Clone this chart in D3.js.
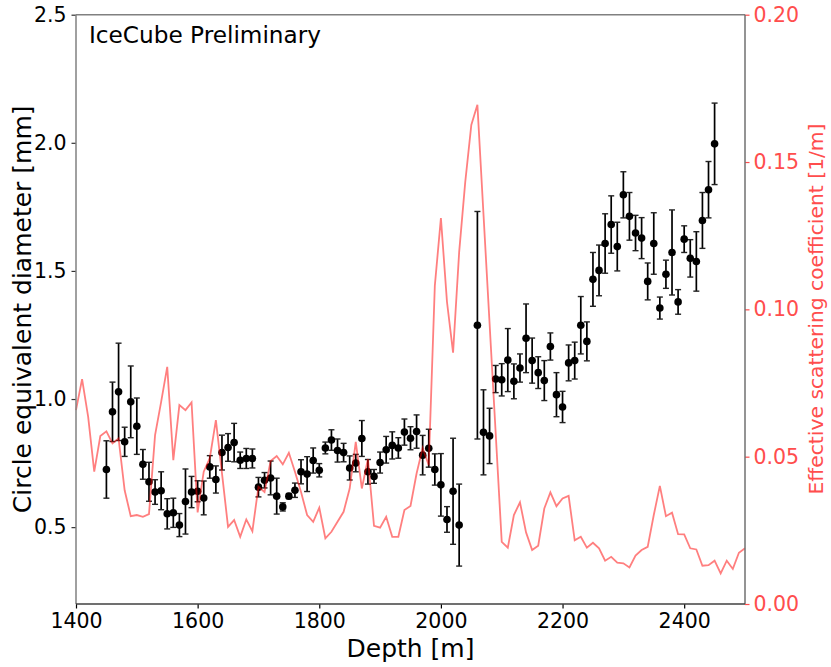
<!DOCTYPE html>
<html>
<head>
<meta charset="utf-8">
<script src="https://cdn.jsdelivr.net/npm/d3@7"></script>
<style>
  html, body { margin: 0; padding: 0; background: #fff; }
  svg { display: block; font-family: "DejaVu Sans", sans-serif; }
</style>
</head>
<body>
<div id="chart"></div>
<script>
// Grain size measurements (black points with error bars), left axis.
const sizeDepths = [
  1450, 1460, 1470, 1480, 1490, 1500, 1510, 1520, 1530, 1540,
  1550, 1560, 1570, 1580, 1590, 1600, 1610, 1620, 1630, 1640,
  1650, 1660, 1670, 1680, 1690, 1700, 1710, 1720, 1730, 1740,
  1750, 1760, 1770, 1780, 1790, 1800, 1810, 1820, 1830, 1840,
  1850, 1860, 1870, 1880, 1890, 1900, 1910, 1920, 1930, 1940,
  1950, 1960, 1970, 1980, 1990, 2000, 2010, 2020, 2030,
  2060, 2070, 2080, 2090, 2100, 2110, 2120, 2130, 2140, 2150,
  2160, 2170, 2180, 2190, 2200, 2210, 2220, 2230, 2240, 2250,
  2260, 2270, 2280, 2290, 2300, 2310, 2320, 2330, 2340, 2350,
  2360, 2370, 2380, 2390, 2400, 2410, 2420, 2430, 2440, 2450
];
const sizeValues = [
  0.725, 0.950, 1.028, 0.833, 0.989, 0.894, 0.745, 0.677, 0.637, 0.642,
  0.552, 0.556, 0.508, 0.600, 0.637, 0.640, 0.614, 0.735, 0.686, 0.791,
  0.811, 0.830, 0.761, 0.768, 0.768, 0.656, 0.683, 0.692, 0.621, 0.579,
  0.621, 0.644, 0.716, 0.707, 0.760, 0.722, 0.809, 0.840, 0.799, 0.791,
  0.731, 0.750, 0.846, 0.716, 0.698, 0.752, 0.802, 0.819, 0.809, 0.871,
  0.847, 0.873, 0.781, 0.808, 0.725, 0.665, 0.530, 0.640, 0.508,
  1.288, 0.870, 0.856, 1.078, 1.075, 1.152, 1.069, 1.121, 1.237, 1.150,
  1.103, 1.072, 1.205, 1.017, 0.969, 1.141, 1.150, 1.288, 1.225, 1.467,
  1.502, 1.607, 1.681, 1.595, 1.797, 1.713, 1.648, 1.628, 1.459, 1.607,
  1.355, 1.487, 1.572, 1.379, 1.624, 1.549, 1.537, 1.697, 1.817, 1.996
];
const sizeErrors = [
  0.112, 0.116, 0.190, 0.057, 0.140, 0.110, 0.058, 0.076, 0.048, 0.074,
  0.059, 0.057, 0.045, 0.127, 0.061, 0.041, 0.066, 0.044, 0.053, 0.068,
  0.054, 0.075, 0.032, 0.039, 0.037, 0.038, 0.030, 0.066, 0.070, 0.016,
  0.010, 0.028, 0.047, 0.068, 0.049, 0.026, 0.023, 0.040, 0.045, 0.036,
  0.047, 0.034, 0.070, 0.048, 0.027, 0.041, 0.052, 0.053, 0.040, 0.051,
  0.045, 0.065, 0.077, 0.074, 0.061, 0.122, 0.050, 0.207, 0.160,
  0.444, 0.166, 0.108, 0.053, 0.063, 0.123, 0.068, 0.055, 0.134, 0.088,
  0.062, 0.078, 0.053, 0.086, 0.061, 0.070, 0.072, 0.112, 0.076, 0.105,
  0.099, 0.116, 0.112, 0.095, 0.090, 0.093, 0.069, 0.080, 0.072, 0.120,
  0.043, 0.055, 0.166, 0.048, 0.052, 0.073, 0.116, 0.109, 0.110, 0.159
];

// Effective scattering coefficient (red line), right axis.
const scatterDepths = [
  1400, 1410, 1420, 1430, 1440, 1450, 1460, 1470, 1480, 1490,
  1500, 1510, 1520, 1530, 1540, 1550, 1560, 1570, 1580, 1590,
  1600, 1610, 1620, 1630, 1640, 1650, 1660, 1670, 1680, 1690,
  1700, 1710, 1720, 1730, 1740, 1750, 1760, 1770, 1780, 1790,
  1800, 1810, 1820, 1830, 1840, 1850, 1860, 1870, 1880, 1890,
  1900, 1910, 1920, 1930, 1940, 1950, 1960, 1970, 1980, 1990,
  2000, 2010, 2020, 2030, 2040, 2050, 2060, 2070, 2080, 2090,
  2100, 2110, 2120, 2130, 2140, 2150, 2160, 2170, 2180, 2190,
  2200, 2210, 2220, 2230, 2240, 2250, 2260, 2270, 2280, 2290,
  2300, 2310, 2320, 2330, 2340, 2350, 2360, 2370, 2380, 2390,
  2400, 2410, 2420, 2430, 2440, 2450, 2460, 2470, 2480, 2490,
  2500
];
const scatterValues = [
  0.0658, 0.0763, 0.0635, 0.0449, 0.0570, 0.0586, 0.0545, 0.0562, 0.0386, 0.0298,
  0.0302, 0.0296, 0.0305, 0.0573, 0.0686, 0.0805, 0.0488, 0.0675, 0.0658, 0.0684,
  0.0311, 0.0449, 0.0495, 0.0624, 0.0444, 0.0262, 0.0285, 0.0228, 0.0287, 0.0247,
  0.0398, 0.0380, 0.0485, 0.0502, 0.0474, 0.0513, 0.0449, 0.0380, 0.0302, 0.0279,
  0.0327, 0.0223, 0.0245, 0.0279, 0.0313, 0.0392, 0.0550, 0.0392, 0.0492, 0.0265,
  0.0259, 0.0296, 0.0228, 0.0228, 0.0319, 0.0333, 0.0443, 0.0530, 0.0471, 0.1080,
  0.1310, 0.1025, 0.0853, 0.1194, 0.1432, 0.1626, 0.1694, 0.1323, 0.0953, 0.0582,
  0.0211, 0.0191, 0.0302, 0.0345, 0.0243, 0.0183, 0.0198, 0.0324, 0.0379, 0.0332,
  0.0358, 0.0367, 0.0216, 0.0228, 0.0191, 0.0208, 0.0189, 0.0147, 0.0160, 0.0140,
  0.0138, 0.0124, 0.0164, 0.0183, 0.0194, 0.0302, 0.0401, 0.0298, 0.0310, 0.0237,
  0.0236, 0.0189, 0.0185, 0.0130, 0.0132, 0.0147, 0.0104, 0.0147, 0.0119, 0.0174,
  0.0189
];

const depthTicks = [1400, 1600, 1800, 2000, 2200, 2400];
const sizeTicks = [0.5, 1.0, 1.5, 2.0, 2.5];
const scatterTicks = [0.00, 0.05, 0.10, 0.15, 0.20];

const width = 831;
const height = 667;
const margin = { top: 14.7, right: 86, bottom: 63, left: 76 };
const innerW = width - margin.left - margin.right;
const innerH = height - margin.top - margin.bottom;

const red = '#ff4d4d';

const svg = d3.select('#chart').append('svg')
  .attr('width', width)
  .attr('height', height);

svg.append('rect')
  .attr('width', width)
  .attr('height', height)
  .attr('fill', '#fff');

const g = svg.append('g')
  .attr('transform', `translate(${margin.left},${margin.top})`);

const x = d3.scaleLinear().domain([1400, 2500]).range([0, innerW]);
const yLeft = d3.scaleLinear().domain([0.2, 2.5]).range([innerH, 0]);
const yRight = d3.scaleLinear().domain([0, 0.2]).range([innerH, 0]);

// Axes
const xAxis = g.append('g')
  .attr('transform', `translate(0,${innerH})`)
  .call(d3.axisBottom(x).tickValues(depthTicks).tickFormat(d3.format('d'))
    .tickSize(4.5).tickPadding(5).tickSizeOuter(0));

const leftAxis = g.append('g')
  .call(d3.axisLeft(yLeft).tickValues(sizeTicks).tickFormat(d3.format('.1f'))
    .tickSize(4.5).tickPadding(5).tickSizeOuter(0));

const rightAxis = g.append('g')
  .attr('transform', `translate(${innerW},0)`)
  .call(d3.axisRight(yRight).tickValues(scatterTicks).tickFormat(d3.format('.2f'))
    .tickSize(4.5).tickPadding(4).tickSizeOuter(0));

[xAxis, leftAxis, rightAxis].forEach(function (a) {
  a.select('.domain').remove();
  a.selectAll('text')
    .style('font-family', '"DejaVu Sans", sans-serif')
    .style('font-size', '20.5px');
});
xAxis.selectAll('text').attr('fill', '#000');
xAxis.selectAll('line').attr('stroke', '#000').attr('stroke-width', 1.2);
leftAxis.selectAll('text').attr('fill', '#000');
leftAxis.selectAll('line').attr('stroke', '#333').attr('stroke-width', 1.2);
rightAxis.selectAll('text').attr('fill', red);
rightAxis.selectAll('line').attr('stroke', red).attr('stroke-width', 1.2);

// Error bars and points
const points = sizeDepths.map(function (d, i) {
  return { depth: d, value: sizeValues[i], err: sizeErrors[i] };
});

const bars = g.append('g').attr('class', 'errorbars');
bars.selectAll('line.bar')
  .data(points)
  .enter().append('line')
  .attr('class', 'bar')
  .attr('x1', d => x(d.depth))
  .attr('x2', d => x(d.depth))
  .attr('y1', d => yLeft(d.value - d.err))
  .attr('y2', d => yLeft(d.value + d.err))
  .attr('stroke', '#000')
  .attr('stroke-width', 1.7);

['lo', 'hi'].forEach(function (side) {
  bars.selectAll('line.cap-' + side)
    .data(points)
    .enter().append('line')
    .attr('class', 'cap-' + side)
    .attr('x1', d => x(d.depth) - 3)
    .attr('x2', d => x(d.depth) + 3)
    .attr('y1', d => yLeft(side == 'lo' ? d.value - d.err : d.value + d.err))
    .attr('y2', d => yLeft(side == 'lo' ? d.value - d.err : d.value + d.err))
    .attr('stroke', '#222')
    .attr('stroke-width', 1.4);
});

g.append('g').selectAll('circle')
  .data(points)
  .enter().append('circle')
  .attr('cx', d => x(d.depth))
  .attr('cy', d => yLeft(d.value))
  .attr('r', 3.8)
  .attr('fill', '#000');

// Scattering line on top (twin axis)
const line = d3.line()
  .x((d, i) => x(scatterDepths[i]))
  .y(d => yRight(d));

g.append('path')
  .datum(scatterValues)
  .attr('fill', 'none')
  .attr('stroke', '#ff0000')
  .attr('stroke-opacity', 0.5)
  .attr('stroke-width', 1.8)
  .attr('stroke-linejoin', 'miter')
  .attr('d', line);

// Frame
g.append('line').attr('x1', 0).attr('x2', 0).attr('y1', 0).attr('y2', innerH)
  .attr('stroke', '#808080').attr('stroke-width', 1.5);
g.append('line').attr('x1', 0).attr('x2', innerW).attr('y1', 0).attr('y2', 0)
  .attr('stroke', '#808080').attr('stroke-width', 1.5);
g.append('line').attr('x1', innerW).attr('x2', innerW).attr('y1', 0).attr('y2', innerH)
  .attr('stroke', '#707070').attr('stroke-width', 1.5);
g.append('line').attr('x1', 0).attr('x2', innerW).attr('y1', innerH).attr('y2', innerH)
  .attr('stroke', '#404040').attr('stroke-width', 1.5);

// Labels
g.append('text')
  .attr('x', 13)
  .attr('y', 28.5)
  .attr('font-size', '23.2px')
  .attr('fill', '#000')
  .text('IceCube Preliminary');

svg.append('text')
  .attr('x', margin.left + innerW / 2)
  .attr('y', 657)
  .attr('text-anchor', 'middle')
  .attr('font-size', '25px')
  .attr('fill', '#000')
  .text('Depth [m]');

svg.append('text')
  .attr('transform', `translate(31,${margin.top + innerH / 2}) rotate(-90)`)
  .attr('text-anchor', 'middle')
  .attr('font-size', '25px')
  .attr('fill', '#000')
  .text('Circle equivalent diameter [mm]');

svg.append('text')
  .attr('transform', `translate(823,309) rotate(-90)`)
  .attr('text-anchor', 'middle')
  .attr('font-size', '20.3px')
  .attr('fill', red)
  .text('Effective scattering coefficient [1/m]');
</script>
</body>
</html>
